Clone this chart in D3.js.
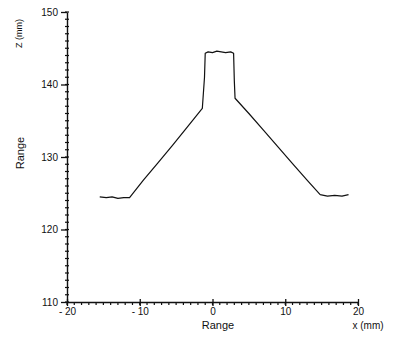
<!DOCTYPE html>
<html>
<head>
<meta charset="utf-8">
<script src="https://cdn.jsdelivr.net/npm/d3@7"></script>
<style>
  body { margin: 0; background: #fff; }
  svg { display: block; }
  text { font-family: "Liberation Sans", "DejaVu Sans", sans-serif; fill: #111; }
</style>
</head>
<body>
<div class="chart"></div>
<script>
// profile trace: position (mm) and height (mm)
var profX = [-15.5, -14.6, -13.8, -13.0, -12.2, -11.4, -9.5, -7.5, -5.5, -3.5, -1.4,
             -1.1, -1.0, -0.6, 0.0, 0.6, 1.2, 1.8, 2.5, 2.9,
             3.0, 3.1, 5.0, 7.0, 9.0, 11.0, 13.0, 14.8, 15.8, 16.8, 17.8, 18.7];
var profZ = [124.5, 124.4, 124.5, 124.3, 124.4, 124.4, 126.8, 129.2, 131.6, 134.1, 136.7,
             141.0, 144.3, 144.5, 144.4, 144.6, 144.5, 144.4, 144.5, 144.3,
             140.5, 138.1, 136.0, 133.7, 131.4, 129.1, 126.8, 124.8, 124.6, 124.7, 124.6, 124.8];

var xTicks = [-20, -10, 0, 10, 20];
var yTicks = [110, 120, 130, 140, 150];

var W = 399, H = 348;
var margin = {top: 12, right: 41, bottom: 46, left: 67};
var width = W - margin.left - margin.right,
    height = H - margin.top - margin.bottom;

var x = d3.scaleLinear().domain([-20, 20]).range([0, width]);
var y = d3.scaleLinear().domain([110, 150]).range([height, 0]);

var svg = d3.select(".chart").append("svg")
    .attr("width", W)
    .attr("height", H);

var g = svg.append("g")
    .attr("transform", "translate(" + margin.left + "," + margin.top + ")");

// minor ticks every 1 unit
var xMinor = d3.range(-20, 21, 1), yMinor = d3.range(110, 151, 1);

g.append("g")
    .selectAll("line")
    .data(xMinor)
    .enter().append("line")
    .attr("x1", function(d) { return x(d); })
    .attr("x2", function(d) { return x(d); })
    .attr("y1", height)
    .attr("y2", height + 3)
    .attr("stroke", "#111")
    .attr("stroke-width", 1.2);

g.append("g")
    .selectAll("line")
    .data(yMinor)
    .enter().append("line")
    .attr("x1", -2)
    .attr("x2", 2)
    .attr("y1", function(d) { return y(d); })
    .attr("y2", function(d) { return y(d); })
    .attr("stroke", "#111")
    .attr("stroke-width", 1.2);

// axes
var xAxis = g.append("g")
    .attr("transform", "translate(0," + height + ")")
    .call(d3.axisBottom(x).tickValues(xTicks).tickSize(4).tickSizeOuter(0)
      .tickFormat(function(d) { return d < 0 ? "- " + Math.abs(d) : d; }));

var yAxis = g.append("g")
    .call(d3.axisLeft(y).tickValues(yTicks).tickSize(6).tickSizeOuter(0).tickPadding(3));

[xAxis, yAxis].forEach(function(a) {
  a.select(".domain").attr("stroke", "#111").attr("stroke-width", 1.4);
  a.selectAll(".tick line").attr("stroke", "#111").attr("stroke-width", 1.3);
  a.selectAll(".tick text").style("font-size", "10px").attr("fill", "#111");
});
xAxis.selectAll(".tick line").attr("y1", -3);
xAxis.selectAll(".tick text").attr("dy", "0.55em");

// profile line
var line = d3.line()
    .x(function(d, i) { return x(profX[i]); })
    .y(function(d) { return y(d); });

g.append("path")
    .datum(profZ)
    .attr("d", line)
    .attr("fill", "none")
    .attr("stroke", "#111")
    .attr("stroke-width", 1.2)
    .attr("stroke-linejoin", "round");

// labels
svg.append("text")
    .attr("transform", "translate(22,48) rotate(-90)")
    .style("font-size", "9px")
    .text("Z (mm)");

svg.append("text")
    .attr("transform", "translate(24,153) rotate(-90)")
    .attr("text-anchor", "middle")
    .style("font-size", "11px")
    .text("Range");

svg.append("text")
    .attr("x", 218)
    .attr("y", 329)
    .attr("text-anchor", "middle")
    .style("font-size", "11px")
    .text("Range");

svg.append("text")
    .attr("x", 368)
    .attr("y", 329)
    .attr("text-anchor", "middle")
    .style("font-size", "10px")
    .text("x (mm)");
</script>
</body>
</html>
